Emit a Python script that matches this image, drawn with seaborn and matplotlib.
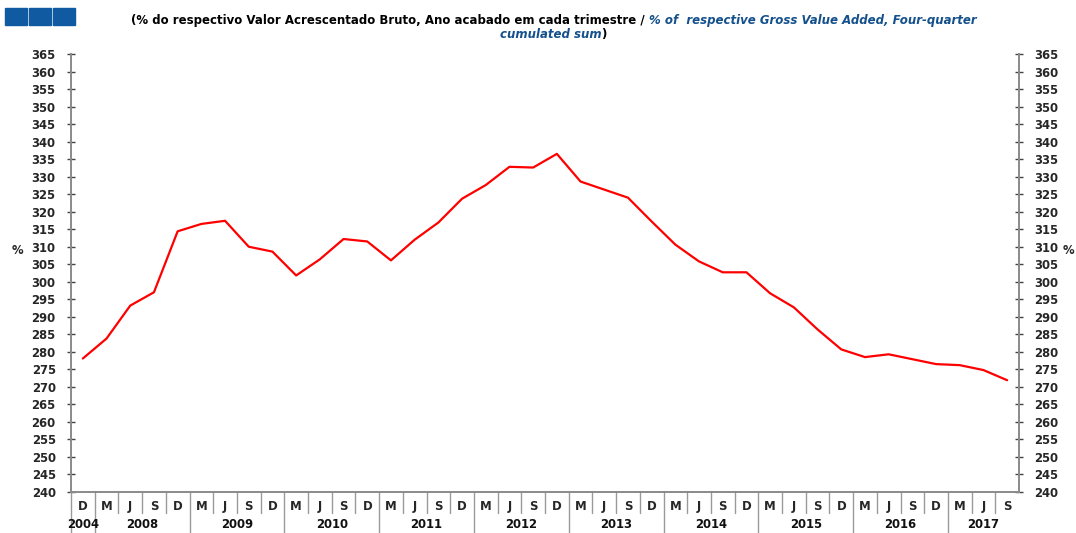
import matplotlib
matplotlib.use("Agg")
import matplotlib.pyplot as plt
from matplotlib.patches import Rectangle
import numpy as np
import pandas as pd
import seaborn as sns

# Quarter labels (D 2004, then quarterly Mar/Jun/Sep/Dec 2008 .. Sep 2017)
quarters = ["D"] + ["M", "J", "S", "D"] * 9 + ["M", "J", "S"]
years = ["2004", "2008", "2009", "2010", "2011", "2012",
         "2013", "2014", "2015", "2016", "2017"]
year_sizes = [1, 4, 4, 4, 4, 4, 4, 4, 4, 4, 3]

# Ratio, % of gross value added (four-quarter cumulated sum)
ratio = [278.1, 283.8, 293.2, 297.0, 314.4, 316.5, 317.4, 310.0, 308.6, 301.8,
         306.4, 312.2, 311.5, 306.1, 312.0, 316.9, 323.7, 327.6, 332.8, 332.6,
         336.5, 328.6, 326.3, 324.0, 317.2, 310.6, 305.8, 302.7, 302.7, 296.7,
         292.7, 286.4, 280.7, 278.5, 279.3, 277.9, 276.5, 276.2, 274.8, 271.9]

yticks = list(range(240, 366, 5))

sns.set_style("white")
plt.rcParams["font.family"] = ["DejaVu Sans"]

W, H = 1076, 533
fig = plt.figure(figsize=(W / 100, H / 100), dpi=100)
ax = fig.add_axes([71 / W, (H - 492) / H, (1019 - 71) / W, (492 - 54) / H])

df = pd.DataFrame({"pos": np.arange(len(ratio)), "ratio": ratio})
sns.lineplot(data=df, x="pos", y="ratio", color="#ff0000", linewidth=1.6, ax=ax)

ax.set_xlim(-0.5, len(ratio) - 0.5)
ax.set_ylim(240, 365)
ax.set_xlabel("")
ax.set_ylabel("")

# value axes on both sides
ax.set_yticks(yticks)
ax.set_yticklabels([str(v) for v in yticks])
ax.tick_params(axis="y", which="major", direction="inout", length=6, width=1,
               color="#444444", left=True, right=True, labelleft=True,
               labelright=True, labelsize=8.4, pad=8)
for lab in ax.get_yticklabels():
    lab.set_fontweight("bold")

for side in ("left", "right", "bottom"):
    ax.spines[side].set_visible(True)
    ax.spines[side].set_color("#8a8a8a")
    ax.spines[side].set_linewidth(1.4)
ax.spines["top"].set_visible(False)

# quarter labels
ax.set_xticks(np.arange(len(quarters)))
ax.set_xticklabels(quarters)
ax.tick_params(axis="x", length=0, pad=6, labelsize=8.4)
for lab in ax.get_xticklabels():
    lab.set_fontweight("bold")

# separators between quarters and between years
xt = ax.get_xaxis_transform()
short_h = (513 - 492) / (492 - 54)
long_h = (533 - 492) / (492 - 54)
starts = np.concatenate([[0], np.cumsum(year_sizes)[:-1]])
year_edges = set(int(s) for s in starts)
for k in range(1, len(quarters)):
    if k not in year_edges:
        ax.plot([k - 0.5, k - 0.5], [0, -short_h], transform=xt, color="#9a9a9a",
                lw=1, clip_on=False)
for k in sorted(year_edges):
    ax.plot([k - 0.5, k - 0.5], [0, -long_h], transform=xt, color="#9a9a9a",
            lw=1, clip_on=False)

year_y = -(525 - 492) / (492 - 54)
for yr, s, n in zip(years, starts, year_sizes):
    ax.text(s + n / 2 - 0.5, year_y, yr, transform=xt, ha="center", va="center",
            fontsize=8.4, fontweight="bold", color="#111111")

fig.text(17 / W, 1 - 251 / H, "%", ha="center", va="center",
         fontsize=8.4, fontweight="bold")
fig.text(1068 / W, 1 - 251 / H, "%", ha="center", va="center",
         fontsize=8.4, fontweight="bold")

# header squares
for x0 in (5, 29, 53):
    fig.patches.append(Rectangle((x0 / W, 1 - 25 / H), 22 / W, 17 / H,
                                 transform=fig.transFigure, color="#0f5aa0"))

# two-line title with mixed styling
black = dict(fontsize=8.5, fontweight="bold", color="#000000", va="baseline")
blue = dict(fontsize=8.5, fontweight="bold", style="italic", color="#14508c",
            va="baseline")


def title_line(parts, xc, y, gap=4):
    texts = [fig.text(0, y, s, **st) for s, st in parts]
    r = fig.canvas.get_renderer()
    widths = [t.get_window_extent(r).width for t in texts]
    total = sum(widths) + gap * (len(parts) - 1)
    x = xc - total / 2
    for t, w in zip(texts, widths):
        t.set_x(x / W)
        x += w + gap


title_line([("(% do respectivo Valor Acrescentado Bruto, Ano acabado em cada trimestre /", black),
            ("% of  respective Gross Value Added, Four-quarter", blue)],
           554, 1 - 24 / H)
title_line([("cumulated sum", blue), (")", black)], 553, 1 - 38 / H, gap=0)

fig.savefig("out.png", dpi=100)
